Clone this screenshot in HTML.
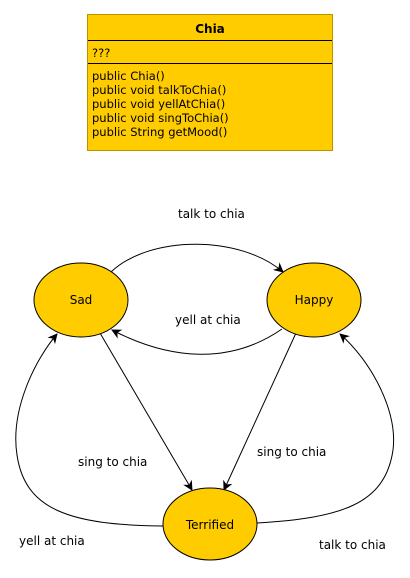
<!DOCTYPE html>
<html><head><meta charset="utf-8"><style>
body{margin:0;background:#fff;width:410px;height:574px;overflow:hidden;font-family:"DejaVu Sans","Liberation Sans",sans-serif;}
</style></head><body>
<svg width="410" height="574" viewBox="0 0 410 574" xmlns="http://www.w3.org/2000/svg" font-family="DejaVu Sans, Liberation Sans, sans-serif">
<defs><marker id="a" markerWidth="10" markerHeight="10" refX="9" refY="5" orient="auto" markerUnits="userSpaceOnUse"><path d="M0,0 L10,5 L0,10 L3,5 Z" fill="#000"/></marker></defs>
<rect x="87.5" y="14.5" width="245" height="136" fill="#ffcc00" stroke="#b89400"/>
<line x1="88" y1="40.5" x2="332" y2="40.5" stroke="#000"/>
<line x1="88" y1="63.5" x2="332" y2="63.5" stroke="#000"/>
<text x="210" y="33" text-anchor="middle" font-size="12" font-weight="bold">Chia</text>
<g font-size="11.5">
<text x="92" y="57">???</text>
<text x="92" y="80">public Chia()</text>
<text x="92" y="94">public void talkToChia()</text>
<text x="92" y="108">public void yellAtChia()</text>
<text x="92" y="122">public void singToChia()</text>
<text x="92" y="136">public String getMood()</text>
</g>
<g fill="none" stroke="#000" stroke-width="1">
<path d="M111,272 C150,235 240,235 283,272" marker-end="url(#a)"/>
<path d="M282,329 C230,365 170,360 112,330" marker-end="url(#a)"/>
<path d="M100,333 L192,490" marker-end="url(#a)"/>
<path d="M296,333 L224,490" marker-end="url(#a)"/>
<path d="M163,526 C70,525 25,510 17,455 C10,410 35,360 57,334" marker-end="url(#a)"/>
<path d="M257,523 C340,518 385,505 393,450 C398,410 370,360 340,334" marker-end="url(#a)"/>
</g>
<g fill="#ffcc00" stroke="#000">
<ellipse cx="81" cy="300" rx="47" ry="37"/>
<ellipse cx="314" cy="300" rx="47" ry="37"/>
<ellipse cx="210" cy="524" rx="47" ry="36"/>
</g>
<g font-size="12" text-anchor="middle">
<text x="81" y="304">Sad</text>
<text x="314" y="304">Happy</text>
<text x="210" y="529">Terrified</text>
</g>
<g font-size="12">
<text x="178" y="218">talk to chia</text>
<text x="175" y="324">yell at chia</text>
<text x="78" y="466">sing to chia</text>
<text x="257" y="456">sing to chia</text>
<text x="19" y="545">yell at chia</text>
<text x="319" y="549">talk to chia</text>
</g>
</svg>
</body></html>
